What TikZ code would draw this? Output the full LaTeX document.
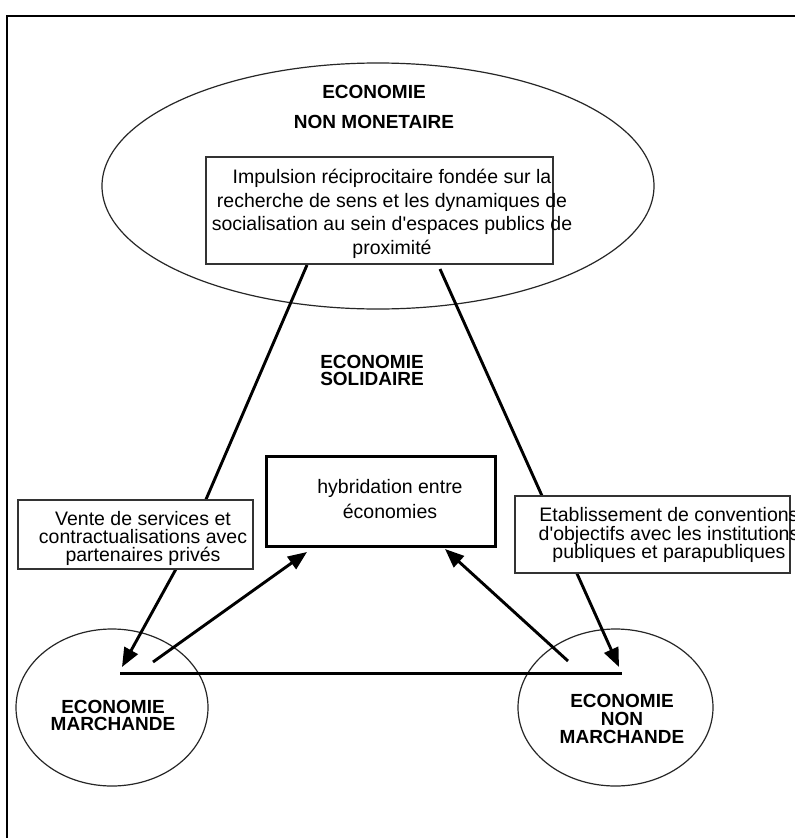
\documentclass[tikz,border=0pt]{standalone}
\usepackage{fontspec}
\setmainfont{Liberation Sans}
\usetikzlibrary{arrows.meta,shapes.geometric}
\begin{document}
\begin{tikzpicture}[x=1pt,y=-1pt,
  frameline/.style={line width=2pt, draw=black},
  oval/.style={ellipse, draw=black!85, line width=1.2pt, inner sep=0pt},
  txtbox/.style={rectangle, draw=black!80, line width=1.5pt, fill=white, inner sep=0pt},
  hybbox/.style={rectangle, draw=black, line width=3pt, fill=white, inner sep=0pt},
  link/.style={line width=2.9pt, draw=black},
  arr/.style={link, -{Triangle[length=19pt,width=15pt]}},
  bodytxt/.style={align=center, inner sep=0pt, text=black},
  titletxt/.style={align=center, inner sep=0pt, text=black},
]
\useasboundingbox (0,0) rectangle (795,838);
\fill[white] (0,0) rectangle (795,838);

% frame
\coordinate (fTR) at (800,16);
\coordinate (fTL) at (7,16);
\coordinate (fBL) at (7,845);
\draw[frameline] (fTR) -- (fTL) -- (fBL);

% ovals
\node[oval, minimum width=552, minimum height=246] (nonmon) at (378,186) {};
\node[oval, minimum width=192, minimum height=157] (march) at (112,707.5) {};
\node[oval, minimum width=195, minimum height=157] (nonmarch) at (615.5,707.5) {};

% connector end points
\coordinate (aL0) at (307,265);
\coordinate (aL1) at (176,569);
\coordinate (tipL) at (122,667);
\coordinate (aR0) at (440,269);
\coordinate (tipR) at (619,667);
\coordinate (mL0) at (153,662);
\coordinate (mL1) at (307,552);
\coordinate (mR0) at (568,661);
\coordinate (mR1) at (445,549);
\coordinate (hL) at (120,673);
\coordinate (hR) at (622,673);

% connectors
\draw[link] (aL0) -- (aL1);
\draw[arr] (aL1) -- (tipL);
\draw[arr] (aR0) -- (tipR);
\draw[arr] (mL0) -- (mL1);
\draw[arr] (mR0) -- (mR1);
\draw[line width=3pt] (hL) -- (hR);

% boxes
\node[txtbox, minimum width=347, minimum height=107] (impbox) at (379.5,210.5) {};
\node[txtbox, minimum width=235, minimum height=69] (ventebox) at (135.5,534.5) {};
\node[hybbox, minimum width=229, minimum height=90] (hybbox) at (380.5,501) {};
\node[txtbox, minimum width=275, minimum height=77] (etabbox) at (652.5,534.5) {};

% texts
\node[titletxt, font=\fontsize{19}{30}\selectfont\bfseries] (tNonMon) at (374,107) {ECONOMIE\\NON MONETAIRE};
\node[bodytxt, font=\fontsize{19.5}{23.5}\selectfont] (tImp) at (392,214) {Impulsion réciprocitaire fondée sur la\\recherche de sens et les dynamiques de\\socialisation au sein d\textquotesingle espaces publics de\\proximité};
\node[titletxt, font=\fontsize{19}{17.5}\selectfont\bfseries] (tSol) at (372,370.5) {ECONOMIE\\SOLIDAIRE};
\node[bodytxt, font=\fontsize{19.5}{25}\selectfont] (tHyb) at (390,499) {hybridation entre\\économies};
\node[bodytxt, font=\fontsize{19.5}{18.3}\selectfont] (tVente) at (143,538.5) {Vente de services et\\contractualisations avec\\partenaires privés};
\node[bodytxt, font=\fontsize{19.5}{18.5}\selectfont] (tEtab) at (669,535) {Etablissement de conventions\\d\textquotesingle objectifs avec les institutions\\publiques et parapubliques};
\node[titletxt, font=\fontsize{19}{17.5}\selectfont\bfseries] (tMarch) at (113,715.5) {ECONOMIE\\MARCHANDE};
\node[titletxt, font=\fontsize{19}{18}\selectfont\bfseries] (tNonMarch) at (622,719) {ECONOMIE\\NON\\MARCHANDE};
\end{tikzpicture}
\end{document}
